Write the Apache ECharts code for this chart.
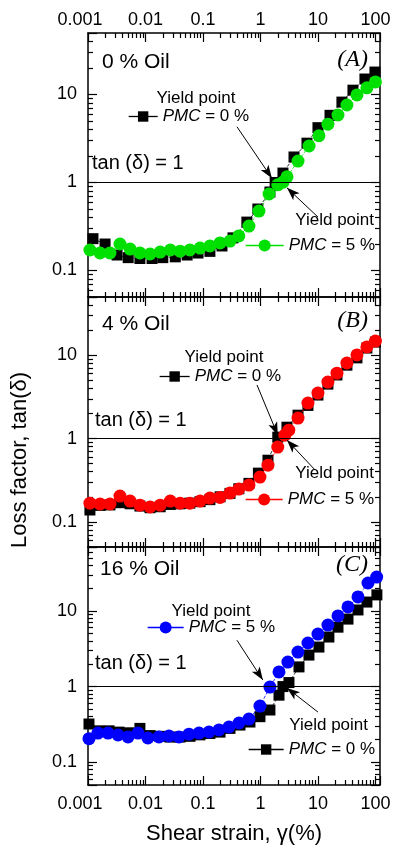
<!DOCTYPE html>
<html><head><meta charset="utf-8">
<script src="https://cdn.jsdelivr.net/npm/echarts@6/dist/echarts.min.js"></script>
<style>html,body{margin:0;padding:0;background:#fff}#c{width:394px;height:853px}</style>
</head><body><div id="c"></div>
<script>
// ---------- data ----------
// Panel A, 0 % oil
const xA0 = [0.00122, 0.00198, 0.0032, 0.005, 0.008, 0.013, 0.02, 0.033, 0.053, 0.082, 0.132, 0.214, 0.333, 0.58, 0.9, 1.46, 1.8, 2.46, 3.83, 6.44, 10, 16.2, 26.1, 40.6, 65.6, 98];
const yA0 = [0.23, 0.2, 0.15, 0.14, 0.137, 0.137, 0.14, 0.143, 0.15, 0.158, 0.165, 0.19, 0.235, 0.355, 0.5, 0.78, 1.0, 1.28, 1.95, 2.8, 4.2, 5.8, 8.2, 11.2, 15, 18];
const xA5 = [0.00108, 0.00162, 0.00241, 0.0036, 0.0054, 0.008, 0.012, 0.018, 0.027, 0.04, 0.059, 0.089, 0.132, 0.198, 0.295, 0.42, 0.63, 0.94, 1.41, 2.0, 2.46, 2.89, 4.5, 7.0, 10.4, 14.9, 22.3, 31.9, 47.7, 71, 100];
const yA5 = [0.171, 0.158, 0.158, 0.2, 0.175, 0.158, 0.154, 0.162, 0.171, 0.166, 0.171, 0.18, 0.19, 0.206, 0.216, 0.247, 0.32, 0.474, 0.74, 0.94, 1.01, 1.16, 1.75, 2.6, 3.4, 4.6, 5.85, 7.6, 9.9, 11.9, 13.9];
// Panel B, 4 % oil
const xB0 = [0.00108, 0.00162, 0.00241, 0.0036, 0.0054, 0.008, 0.012, 0.018, 0.027, 0.04, 0.059, 0.089, 0.132, 0.198, 0.295, 0.42, 0.63, 0.92, 1.35, 2.0, 2.89, 4.5, 6.7, 10, 14.9, 21.4, 31.9, 47.7, 71, 100];
const yB0 = [0.139, 0.158, 0.16, 0.17, 0.165, 0.155, 0.148, 0.152, 0.162, 0.165, 0.168, 0.175, 0.185, 0.2, 0.22, 0.25, 0.29, 0.385, 0.55, 1.04, 1.37, 1.91, 2.5, 3.33, 4.5, 5.8, 7.6, 9.3, 12.2, 14.4];
const xB5 = [0.00108, 0.00162, 0.00241, 0.0036, 0.0054, 0.008, 0.012, 0.018, 0.027, 0.04, 0.059, 0.089, 0.132, 0.198, 0.295, 0.42, 0.63, 0.98, 1.35, 2.0, 2.65, 3.11, 4.5, 6.7, 10, 14.9, 21.4, 31.9, 47.7, 71, 100];
const yB5 = [0.168, 0.164, 0.164, 0.204, 0.178, 0.159, 0.151, 0.159, 0.178, 0.168, 0.168, 0.178, 0.193, 0.197, 0.222, 0.248, 0.277, 0.345, 0.48, 0.79, 1.1, 1.26, 1.76, 2.67, 3.52, 4.77, 6.1, 8.07, 10.1, 12.6, 14.8];
// Panel C, 16 % oil
const xC0 = [0.00104, 0.00155, 0.00232, 0.00346, 0.00516, 0.008, 0.012, 0.0179, 0.0267, 0.0398, 0.0594, 0.0887, 0.132, 0.198, 0.295, 0.44, 0.656, 0.98, 1.46, 2.1, 2.46, 3.13, 4.68, 6.97, 10.4, 15.5, 22.3, 33.3, 49.7, 71.1, 106];
const yC0 = [0.32, 0.26, 0.26, 0.25, 0.245, 0.28, 0.225, 0.22, 0.215, 0.215, 0.22, 0.23, 0.24, 0.25, 0.28, 0.31, 0.34, 0.40, 0.49, 0.77, 1.0, 1.13, 1.82, 2.61, 3.33, 4.52, 6.1, 7.8, 10.3, 13.1, 16.3];
const xC5 = [0.00104, 0.00149, 0.00223, 0.00333, 0.00497, 0.00741, 0.011, 0.0172, 0.0256, 0.0383, 0.0571, 0.0852, 0.127, 0.19, 0.283, 0.423, 0.63, 0.98, 1.46, 2.1, 3.0, 4.49, 6.7, 10, 14.9, 22.3, 33.3, 49.7, 74.2, 105];
const yC5 = [0.205, 0.243, 0.243, 0.229, 0.216, 0.243, 0.209, 0.216, 0.222, 0.216, 0.235, 0.243, 0.251, 0.267, 0.292, 0.33, 0.372, 0.553, 0.986, 1.56, 2.11, 2.86, 3.77, 4.95, 6.5, 8.6, 11.3, 15.3, 23.4, 28];

// axis ranges
const xRange = [0.001, 120];
const yRanges = [[0.05, 50], [0.05, 50], [0.05, 70]];
// arrow annotations [x1, y1, x2, y2] in data units
const arrowsA = [[0.39, 4.3, 1.58, 1.12], [10, 0.405, 2.89, 0.87]];
const arrowsB = [[0.87, 4.4, 2.0, 1.1], [8.9, 0.42, 2.89, 0.96]];
const arrowsC = [[0.39, 4.1, 1.1, 1.22], [10, 0.46, 2.89, 0.96]];
// texts
const panelLetters = ['(A)', '(B)', '(C)'];
const oilLabels = ['0 % Oil', '4 % Oil', '16 % Oil'];

// ---------- layout ----------
const FONT = '"Liberation Sans", Arial, Helvetica, sans-serif';
const SERIF = '"Liberation Serif", "Times New Roman", serif';
const grids = [
  {top: 33, height: 264},
  {top: 297, height: 250},
  {top: 547, height: 238}
];
const GL = 88, GW = 292;

function zip(xs, ys) { return xs.map((x, i) => [x, ys[i]]); }
function decadeLabel(v) {
  const l = Math.log10(v), r = Math.round(l);
  if (Math.abs(l - r) > 1e-6) return '';
  return r < 0 ? Math.pow(10, r).toFixed(-r) : String(Math.round(Math.pow(10, r)));
}
function minorLogs(min, max) {
  const out = [];
  for (let n = Math.floor(Math.log10(min)); n <= Math.ceil(Math.log10(max)); n++) {
    for (let k = 2; k <= 9; k++) {
      const v = k * Math.pow(10, n);
      if (v > min * 1.0001 && v < max * 0.9999) out.push(Math.log10(v));
    }
  }
  return out;
}
const lineCol = {color: '#000', width: 1.5};
const tickStyle = {color: '#000', width: 1.2};

const xAxis = [], yAxis = [];
grids.forEach((g, gi) => {
  const xlab = (pos) => ({
    show: (pos === 'bottom' && gi === 2) || (pos === 'top' && gi === 0),
    interval: 0, color: '#000', fontSize: 18, fontFamily: FONT,
    margin: pos === 'top' ? 4 : 10,
    formatter: (v) => {
      const s = decadeLabel(v);
      if (s === '0.001') return '{m|0.001}';
      return s;
    },
    rich: {m: {fontSize: 18, fontFamily: FONT, color: '#000', padding: [0, 16, 0, 0]}}
  });
  ['bottom', 'top'].forEach(pos => {
    const ax = {
      type: 'log', logBase: 10, gridIndex: gi, position: pos,
      min: xRange[0], max: xRange[1],
      axisLine: {show: true, onZero: false, lineStyle: lineCol},
      axisTick: {show: true, inside: true, length: 9, lineStyle: tickStyle},
      minorTick: {show: false},
      splitLine: {show: false},
      axisLabel: xlab(pos)
    };
    if (pos === 'bottom' && gi === 2) {
      ax.name = 'Shear strain, γ(%)';
      ax.nameLocation = 'middle';
      ax.nameGap = 38;
      ax.nameTextStyle = {fontSize: 22, fontFamily: FONT, color: '#000'};
    }
    xAxis.push(ax);
  });
  ['bottom', 'top'].forEach(pos => {
    xAxis.push({
      type: 'value', gridIndex: gi, position: pos,
      min: Math.log10(xRange[0]), max: Math.log10(xRange[1]),
      axisLine: {show: false, onZero: false},
      axisTick: {show: true, inside: true, length: 5, lineStyle: tickStyle, customValues: minorLogs(xRange[0], xRange[1])},
      axisLabel: {show: false}, splitLine: {show: false}
    });
  });
  const yr = yRanges[gi];
  ['left', 'right'].forEach(pos => {
    yAxis.push({
      type: 'log', logBase: 10, gridIndex: gi, position: pos,
      min: yr[0], max: yr[1],
      axisLine: {show: true, onZero: false, lineStyle: lineCol},
      axisTick: {show: true, inside: true, length: 9, lineStyle: tickStyle},
      minorTick: {show: false},
      splitLine: {show: false},
      axisLabel: {show: pos === 'left', interval: 0, margin: 11, color: '#000', fontSize: 18, fontFamily: FONT, formatter: decadeLabel}
    });
  });
  ['left', 'right'].forEach(pos => {
    yAxis.push({
      type: 'value', gridIndex: gi, position: pos,
      min: Math.log10(yr[0]), max: Math.log10(yr[1]),
      axisLine: {show: false, onZero: false},
      axisTick: {show: true, inside: true, length: 5, lineStyle: tickStyle, customValues: minorLogs(yr[0], yr[1])},
      axisLabel: {show: false}, splitLine: {show: false}
    });
  });
});

function blackSeries(name, gi, xs, ys) {
  return {
    type: 'line', name, xAxisIndex: 4 * gi, yAxisIndex: 4 * gi,
    data: zip(xs, ys), symbol: 'rect', symbolSize: 11,
    itemStyle: {color: '#000'},
    lineStyle: {color: '#000', width: 0.8, type: 'dashed'},
    z: 3,
    markLine: {
      silent: true, symbol: 'none', animation: false,
      label: {show: false},
      lineStyle: {color: '#000', width: 1.2, type: 'solid'},
      data: [{yAxis: 1}]
    }
  };
}
function colorSeries(name, gi, xs, ys, color, arrows) {
  return {
    type: 'line', name, xAxisIndex: 4 * gi, yAxisIndex: 4 * gi,
    data: zip(xs, ys), symbol: 'circle', symbolSize: 13,
    itemStyle: {color},
    lineStyle: {color, width: 0.8, type: 'dashed'},
    z: 4,
    markLine: {
      silent: true, animation: false,
      label: {show: false},
      lineStyle: {color: '#000', width: 1, type: 'solid'},
      data: arrows.map(a => [
        {coord: [a[0], a[1]], symbol: 'none'},
        {coord: [a[2], a[3]], symbol: 'arrow', symbolSize: [7, 13]}
      ])
    }
  };
}

const series = [
  blackSeries('A0', 0, xA0, yA0),
  colorSeries('A5', 0, xA5, yA5, '#00e000', arrowsA),
  blackSeries('B0', 1, xB0, yB0),
  colorSeries('B5', 1, xB5, yB5, '#ff0000', arrowsB),
  blackSeries('C0', 2, xC0, yC0),
  colorSeries('C5', 2, xC5, yC5, '#0000ff', arrowsC)
];

const legendText = {A0: '0', A5: '5', B0: '0', B5: '5', C0: '0', C5: '5'};
function legend(name, left, cy, w, h) {
  return {
    data: [name], left, top: cy - 9, padding: 0, itemWidth: w, itemHeight: h,
    selectedMode: false, orient: 'horizontal',
    lineStyle: {type: 'solid', width: 1.3},
    textStyle: {fontSize: 17, fontFamily: FONT, color: '#000',
      rich: {i: {fontSize: 17, fontFamily: FONT, fontStyle: 'italic', color: '#000'},
             n: {fontSize: 17, fontFamily: FONT, color: '#000'}}},
    formatter: (n) => '{i|PMC}{n| = ' + legendText[n] + ' %}'
  };
}
const legends = [
  legend('A0', 128, 117, 29, 13),
  legend('A5', 245, 246, 38, 15),
  legend('B0', 159, 377, 30, 13),
  legend('B5', 245, 500, 37, 15),
  legend('C5', 147, 628, 36, 15),
  legend('C0', 248, 750, 35, 13)
];

function txt(x, y, text, size, align) {
  return {type: 'text', x, y, silent: true, z: 50,
    style: {text, fontSize: size, fontFamily: FONT, fill: '#000', align: align || 'left', verticalAlign: 'middle'}};
}
function letter(y, text) {
  return {type: 'text', x: 368, y, silent: true,
    style: {text, fontSize: 24, fontFamily: SERIF, fontStyle: 'italic', fill: '#000', align: 'right', verticalAlign: 'middle'}};
}
const graphic = [
  {type: 'text', x: 20, y: 460, rotation: Math.PI / 2, silent: true,
   style: {text: 'Loss factor, tan(δ)', fontSize: 22, fontFamily: FONT, fill: '#000', align: 'center', verticalAlign: 'middle'}},
  txt(102, 62, oilLabels[0], 21),
  txt(102, 324, oilLabels[1], 21),
  txt(100, 569, oilLabels[2], 21),
  letter(60, panelLetters[0]),
  letter(321, panelLetters[1]),
  letter(565, panelLetters[2]),
  txt(92, 163, 'tan (δ) = 1', 20),
  txt(95, 420, 'tan (δ) = 1', 20),
  txt(95, 663, 'tan (δ) = 1', 20),
  txt(196, 98, 'Yield point', 17, 'center'),
  txt(374, 220, 'Yield point', 17, 'right'),
  txt(224, 357, 'Yield point', 17, 'center'),
  txt(374, 473, 'Yield point', 17, 'right'),
  txt(211, 611, 'Yield point', 17, 'center'),
  txt(368, 725, 'Yield point', 17, 'right')
];

const option = {
  animation: false,
  backgroundColor: '#fff',
  grid: grids.map(g => ({left: GL, width: GW, top: g.top, height: g.height, containLabel: false, outerBoundsMode: 'none'})),
  xAxis, yAxis, series, legend: legends, graphic
};
const chart = echarts.init(document.getElementById('c'), null, {renderer: 'canvas'});
chart.setOption(option);
</script></body></html>
